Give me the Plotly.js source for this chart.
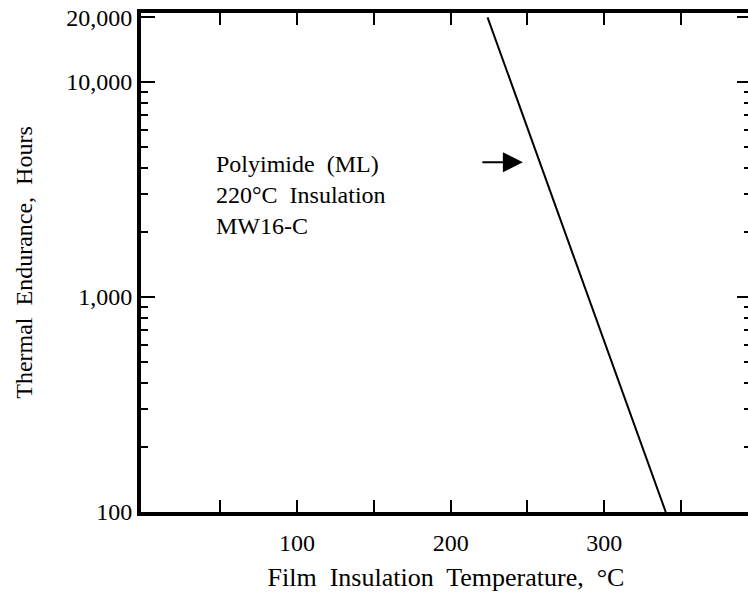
<!DOCTYPE html>
<html>
<head>
<meta charset="utf-8">
<script src="https://cdn.plot.ly/plotly-3.0.1.min.js"></script>
<style>
html, body { margin: 0; padding: 0; overflow: hidden; background: #fff; width: 748px; height: 599px; }
#chart { width: 760px; height: 599px; }
</style>
</head>
<body>
<div id="chart"></div>
<script>
// Data
const temperatureC = [224, 340];
const enduranceHours = [20000, 100];

const xTickVals = [50, 100, 150, 200, 250, 300, 350];
const xTickText = ['', '100', '', '200', '', '300', ''];
const yTickVals = [100, 1000, 10000, 20000];
const yTickText = ['100', '1,000', '10,000', '20,000'];
const yMinorVals = [200, 300, 400, 500, 600, 700, 800, 900, 2000, 3000, 4000, 5000, 6000, 7000, 8000, 9000];

const labelLines = ['Polyimide  (ML)', '220\u00B0C  Insulation', 'MW16-C'];

const font = { family: '"Liberation Serif", "Times New Roman", Times, serif', size: 24, color: '#000' };
const xTitleFont = { family: '"Liberation Serif", "Times New Roman", Times, serif', size: 26, color: '#000' };

const trace = {
  x: temperatureC,
  y: enduranceHours,
  type: 'scatter',
  mode: 'lines',
  line: { color: '#000', width: 2 },
  hoverinfo: 'skip',
  showlegend: false
};

const layout = {
  width: 760,
  height: 599,
  margin: { l: 141, r: 9, t: 13, b: 87 },
  paper_bgcolor: '#fff',
  plot_bgcolor: '#fff',
  font: font,
  showlegend: false,
  xaxis: {
    range: [-1.6, 395.5],
    showgrid: false,
    zeroline: false,
    showline: true,
    linecolor: '#000',
    linewidth: 4,
    mirror: 'allticks',
    ticks: 'inside',
    ticklen: 12,
    tickwidth: 2,
    tickcolor: '#000',
    tickmode: 'array',
    tickvals: xTickVals,
    ticktext: xTickText,
    tickfont: font,
    ticklabelstandoff: 6,
    title: { text: 'Film  Insulation  Temperature,  \u00B0C', font: xTitleFont, standoff: 14 }
  },
  yaxis: {
    type: 'log',
    range: [2, 4.321],
    showgrid: false,
    zeroline: false,
    showline: true,
    linecolor: '#000',
    linewidth: 4,
    mirror: 'allticks',
    ticks: 'inside',
    ticklen: 14,
    tickwidth: 2,
    tickcolor: '#000',
    tickmode: 'array',
    tickvals: yTickVals,
    ticktext: yTickText,
    tickfont: font,
    minor: { tickmode: 'array', tickvals: yMinorVals, ticks: 'inside', ticklen: 7, tickwidth: 2, tickcolor: '#000', showgrid: false },
    title: { text: 'Thermal  Endurance,  Hours', font: font, standoff: 28 }
  },
  annotations: [
    {
      xref: 'paper', yref: 'paper',
      x: 0.119, y: 0.635,
      xanchor: 'left', yanchor: 'middle',
      align: 'left',
      showarrow: false,
      text: labelLines.join('<br>'),
      font: font
    },
    {
      xref: 'paper', yref: 'paper',
      x: 0.626, y: 0.701,
      axref: 'pixel', ayref: 'pixel',
      ax: -42, ay: 0,
      text: '',
      showarrow: true,
      arrowhead: 2,
      arrowwidth: 2,
      arrowsize: 2,
      arrowcolor: '#000'
    }
  ]
};

Plotly.newPlot('chart', [trace], layout, { displayModeBar: false, staticPlot: true });
</script>
</body>
</html>
